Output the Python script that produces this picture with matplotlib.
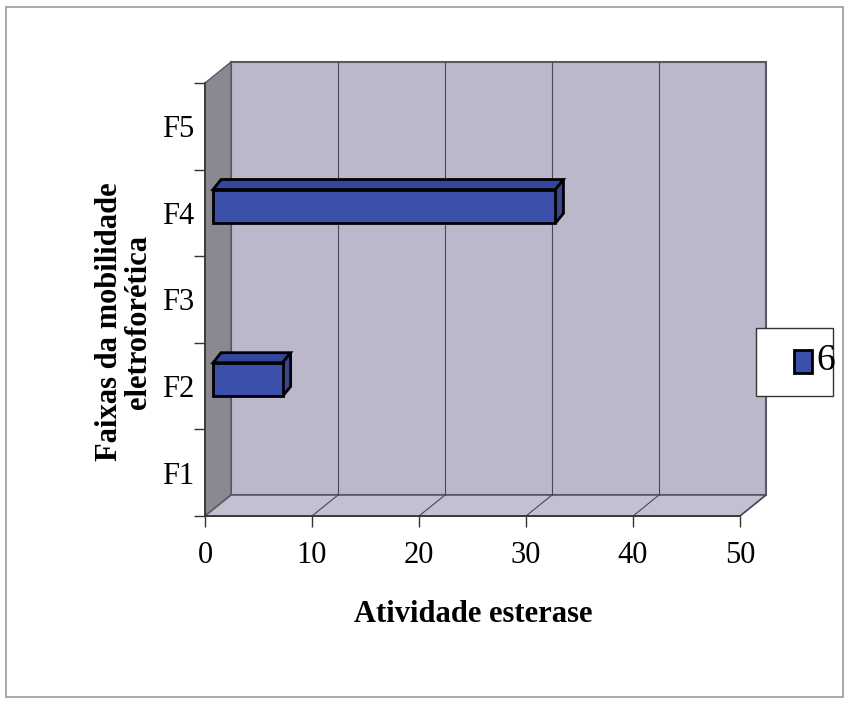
import matplotlib.pyplot as plt
from matplotlib.patches import Polygon, Rectangle
import numpy as np

plt.rcParams['font.family'] = ['Liberation Serif', 'DejaVu Serif']

categories = ["F1", "F2", "F3", "F4", "F5"]
values = [0, 6.5, 0, 32, 0]
series_name = "6"
xticks = [0, 10, 20, 30, 40, 50]

W, H = 848, 705
fig = plt.figure(figsize=(W / 100, H / 100), dpi=100)
fig.patch.set_facecolor("white")

# front plane of the 3d box, in pixels
left, right, top, bottom = 205, 740, 83, 516
ax = fig.add_axes([left / W, 1 - bottom / H, (right - left) / W, (bottom - top) / H])
xmax = 50
ncat = len(categories)
ax.set_xlim(0, xmax)
ax.set_ylim(0, ncat)
ax.patch.set_alpha(0)
for s in ax.spines.values():
    s.set_visible(False)

px_x = xmax / (right - left)
px_y = ncat / (bottom - top)
DX, DY = 26 * px_x, 21 * px_y  # wall depth

wall = "#bbb8cb"
side = "#8a8891"
floor = "#c3c0d1"
edge = "#5a5860"

# back wall, left wall, floor
ax.add_patch(Polygon([(DX, DY), (xmax + DX, DY), (xmax + DX, ncat + DY), (DX, ncat + DY)],
                     closed=True, fc=wall, ec=edge, lw=1.5, clip_on=False, zorder=1))
ax.add_patch(Polygon([(0, 0), (DX, DY), (DX, ncat + DY), (0, ncat)],
                     closed=True, fc=side, ec=edge, lw=1.0, clip_on=False, zorder=1))
ax.add_patch(Polygon([(0, 0), (xmax, 0), (xmax + DX, DY), (DX, DY)],
                     closed=True, fc=floor, ec=edge, lw=1.2, clip_on=False, zorder=2))

# gridlines on back wall and floor
for xv in xticks[1:-1]:
    ax.plot([xv + DX, xv + DX], [DY, ncat + DY], color="#4a4850", lw=0.8, zorder=2, clip_on=False)
for xv in xticks[1:]:
    ax.plot([xv, xv + DX], [0, DY], color="#4a4850", lw=0.8, zorder=3, clip_on=False)

# axis lines
ax.plot([0, 0], [0, ncat], color="#333333", lw=1.2, zorder=3, clip_on=False)
ax.plot([0, xmax], [0, 0], color="#333333", lw=1.2, zorder=3, clip_on=False)

# bars
t = 0.31
bh = 0.39
bdx, bdy = 8 * px_x, 10 * px_y
for i, v in enumerate(values):
    if v <= 0:
        continue
    x0 = t * DX
    yc = i + 0.5 + t * DY
    y0, y1 = yc - bh / 2, yc + bh / 2
    ax.add_patch(Polygon([(x0, y1), (x0 + v, y1), (x0 + v + bdx, y1 + bdy), (x0 + bdx, y1 + bdy)],
                         closed=True, fc="#34479c", ec="black", lw=2, zorder=5, clip_on=False))
    ax.add_patch(Polygon([(x0 + v, y0), (x0 + v + bdx, y0 + bdy), (x0 + v + bdx, y1 + bdy), (x0 + v, y1)],
                         closed=True, fc="#3a4790", ec="black", lw=2, zorder=5, clip_on=False))
    ax.add_patch(Rectangle((x0, y0), v, bh, fc="#3a50aa", ec="black", lw=2, zorder=6, clip_on=False))

ax.set_xticks(xticks)
ax.set_xticklabels([str(v) for v in xticks], fontsize=22)
ax.set_yticks(np.arange(ncat + 1))
ax.set_yticklabels([])
ax.set_yticks(np.arange(ncat) + 0.5, minor=True)
ax.set_yticklabels(categories, minor=True, fontsize=22)
ax.tick_params(axis="y", which="minor", length=0, pad=8)
ax.tick_params(axis="y", which="major", length=8, width=1, color="#333333")
ax.tick_params(axis="x", length=8, width=1, color="#333333", pad=10)

fig.text(473 / W, 1 - 615 / H, "Atividade esterase", fontsize=22, fontweight="bold",
         ha="center", va="center")
fig.text(124 / W, 1 - 322 / H, "Faixas da mobilidade\neletroforética", fontsize=22,
         fontweight="bold", rotation=90, ha="center", va="center", linespacing=1.0)

# legend box
fig.add_artist(Rectangle((756 / W, 1 - 396 / H), 77 / W, 68 / H, transform=fig.transFigure,
                         fc="white", ec="#333333", lw=1))
fig.add_artist(Rectangle((794 / W, 1 - 373 / H), 18 / W, 23 / H, transform=fig.transFigure,
                         fc="#3a50aa", ec="black", lw=2))
fig.text(816 / W, 1 - 361 / H, series_name, fontsize=27, ha="left", va="center")

# outer frame
fig.add_artist(Rectangle((6 / W, 1 - 697 / H), 837 / W, 690 / H, transform=fig.transFigure,
                         fill=False, ec="#9a9a9a", lw=1.2))

fig.savefig("out.png", dpi=100)
